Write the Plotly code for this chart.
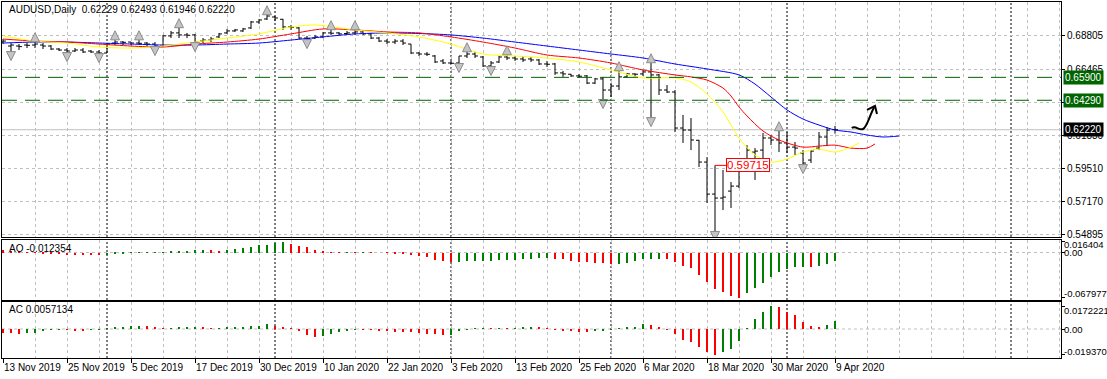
import plotly.graph_objects as go

# ---------------- data ----------------
date_labels = ["13 Nov 2019", "25 Nov 2019", "5 Dec 2019", "17 Dec 2019", "30 Dec 2019",
               "10 Jan 2020", "22 Jan 2020", "3 Feb 2020", "13 Feb 2020", "25 Feb 2020",
               "6 Mar 2020", "18 Mar 2020", "30 Mar 2020", "9 Apr 2020"]
label_every = 8

opens = [.6838, .6810, .6810, .6817, .6817, .6817, .6810, .6789, .6782, .6775,
         .6782, .6775, .6768, .6761, .6831, .6838, .6838, .6831, .6831, .6824,
         .6810, .6881, .6902, .6888, .6888, .6845, .6852, .6874, .6902, .6916,
         .6916, .6937, .6979, .7000, .7014, .6998, .6944, .6937, .6866, .6866,
         .6874, .6902, .6902, .6898, .6902, .6909, .6895, .6866, .6845, .6838,
         .6845, .6824, .6761, .6754, .6740, .6705, .6691, .6691, .6740, .6754,
         .6733, .6670, .6698, .6733, .6726, .6719, .6719, .6712, .6684, .6684,
         .6621, .6612, .6600, .6600, .6550, .6579, .6501, .6529, .6593, .6614,
         .6614, .6628, .6607, .6501, .6487, .6234, .6220, .6148, .5995, .5770,
         .5742, .5791, .5826, .5967, .6065, .6079, .6164, .6150, .6129, .6100,
         .6058, .6009, .6093, .6171, .62229]
highs = [.6859, .6831, .6824, .6831, .6838, .6831, .6817, .6796, .6796, .6796,
         .6796, .6782, .6782, .6831, .6852, .6845, .6838, .6852, .6838, .6838,
         .6888, .6916, .6937, .6902, .6895, .6866, .6874, .6902, .6930, .6930,
         .6937, .6986, .7000, .7028, .7021, .7000, .6958, .6944, .6881, .6888,
         .6909, .6923, .6909, .6916, .6923, .6916, .6902, .6874, .6859, .6859,
         .6859, .6824, .6768, .6768, .6747, .6719, .6705, .6740, .6768, .6768,
         .6740, .6705, .6740, .6747, .6740, .6740, .6733, .6719, .6705, .6691,
         .6635, .6614, .6614, .6607, .6586, .6593, .6543, .6635, .6621, .6618,
         .6642, .6691, .6614, .6536, .6501, .6326, .6304, .6150, .6030, .59715,
         .5939, .5855, .5995, .6114, .6093, .6199, .6185, .6213, .6206, .6136,
         .6079, .6079, .6206, .6241, .62493]
lows = [.6824, .6768, .6782, .6796, .6796, .6789, .6782, .6775, .6761, .6768,
        .6761, .6761, .6754, .6761, .6817, .6817, .6817, .6817, .6810, .6803,
        .6803, .6866, .6866, .6866, .6831, .6831, .6838, .6866, .6895, .6909,
        .6909, .6930, .6965, .6993, .6986, .6923, .6923, .6859, .6852, .6859,
        .6866, .6888, .6888, .6888, .6888, .6888, .6859, .6838, .6824, .6824,
        .6817, .6754, .6740, .6740, .6691, .6684, .6684, .6684, .6726, .6726,
        .6663, .6663, .6691, .6712, .6705, .6698, .6698, .6677, .6663, .6607,
        .6593, .6593, .6586, .6543, .6543, .6431, .6452, .6501, .6586, .6593,
        .6600, .6304, .6466, .6480, .6206, .6129, .6079, .5960, .5707, .5504,
        .5658, .5672, .5812, .5925, .5869, .6009, .6114, .6065, .6058, .6044,
        .5974, .5988, .6079, .6107, .61946]
closes = [.6845, .6817, .6806, .6815, .6824, .6810, .6789, .6782, .6775, .6782,
          .6768, .6768, .6761, .6824, .6838, .6836, .6831, .6829, .6824, .6810,
          .6881, .6902, .6888, .6886, .6838, .6852, .6859, .6895, .6916, .6923,
          .6930, .6979, .6993, .7021, .7007, .6944, .6942, .6866, .6864, .6874,
          .6902, .6900, .6895, .6902, .6909, .6895, .6866, .6845, .6838, .6845,
          .6831, .6761, .6754, .6752, .6698, .6691, .6689, .6740, .6754, .6740,
          .6670, .6691, .6733, .6726, .6719, .6712, .6712, .6684, .6682, .6621,
          .6614, .6600, .6598, .6550, .6579, .6501, .6529, .6593, .6614, .6612,
          .6628, .6607, .6501, .6487, .6234, .6220, .6150, .5995, .5770, .5742,
          .5749, .5826, .5967, .6079, .6072, .6164, .6150, .6129, .6100, .6093,
          .5988, .6072, .6171, .6220, .62220]

# Alligator lines (bar index, price)
jaw_idx = [0, 4, 8, 12, 16, 20, 24, 28, 32, 36, 40, 44, 48, 52, 56, 60, 64, 68, 72, 76,
           80, 84, 88, 92, 94, 96, 98, 100, 102, 104, 106, 108, 110, 112]
jaw_val = [.6831, .6838, .6838, .6831, .6824, .6817, .6817, .6824, .6831, .6852, .6874,
           .6895, .6902, .6898, .6888, .6866, .6838, .6810, .6782, .6754, .6726, .6684,
           .6649, .6607, .6543, .6452, .6361, .6297, .6255, .6220, .6206, .6185, .6171, .6178]
teeth_idx = [0, 4, 8, 12, 16, 20, 24, 28, 32, 36, 40, 44, 48, 52, 56, 60, 64, 68, 72, 76,
             80, 84, 86, 88, 90, 91, 92, 93, 95, 97, 100, 102, 104, 106, 108, 109]
teeth_val = [.6859, .6845, .6838, .6824, .6810, .6803, .6824, .6838, .6859, .6895, .6930,
             .6923, .6909, .6902, .6874, .6838, .6796, .6747, .6726, .6691, .6642, .6607,
             .6593, .6571, .6515, .6459, .6382, .6319, .6213, .6150, .6100, .6107, .6114,
             .6093, .6093, .6122]
lips_idx = [0, 4, 8, 12, 16, 20, 24, 28, 32, 36, 39, 44, 48, 52, 56, 60, 64, 68, 72, 76,
            80, 84, 86, 88, 90, 92, 94, 96, 98, 100, 102, 104, 106, 107]
lips_val = [.6881, .6845, .6831, .6803, .6796, .6810, .6838, .6866, .6895, .6944, .6958,
            .6923, .6902, .6874, .6824, .6754, .6740, .6726, .6698, .6642, .6586, .6586,
            .6557, .6473, .6347, .6164, .6044, .5995, .6016, .6065, .6086, .6065, .6100, .6129]

fractal_up = [4, 14, 17, 22, 33, 41, 44, 58, 63, 77, 81, 97]
fractal_down = [1, 8, 12, 19, 24, 38, 57, 61, 75, 81, 89, 100]

ao = [0.0035, 0.0025, 0.0015, 0.0005, -0.0005, -0.0015, -0.0022, -0.0030, -0.0035, -0.0036,
      -0.0037, -0.0038, -0.0045, -0.0040, -0.0025, -0.0020, -0.0005, 0.0002, 0.0004, 0.0005,
      0.0007, 0.0010, 0.0012, 0.0015, 0.0035, 0.0037, 0.0033, 0.0030, 0.0034, 0.0052,
      0.0068, 0.0085, 0.0110, 0.0120, 0.0150, 0.016404, 0.0135, 0.0105, 0.0082, 0.0042,
      0.0015, 0.0005, 0.0003, 0.0004, 0.0002, 0.0003, 0.0001, 0.0000, -0.0005, -0.0020,
      -0.0025, -0.0045, -0.0060, -0.0075, -0.0110, -0.0125, -0.0145, -0.0143, -0.0135, -0.0130,
      -0.0128, -0.0125, -0.0120, -0.0118, -0.0115, -0.0105, -0.0097, -0.0090, -0.0086, -0.0096,
      -0.0097, -0.0126, -0.0136, -0.0146, -0.0161, -0.0163, -0.0176, -0.0175, -0.0152, -0.0128,
      -0.0098, -0.0096, -0.0094, -0.0097, -0.0146, -0.0197, -0.0237, -0.0338, -0.0449, -0.0549,
      -0.0600, -0.0650, -0.067977, -0.0615, -0.0539, -0.0464, -0.0373, -0.0297, -0.0247, -0.0226,
      -0.0222, -0.0224, -0.0202, -0.0176, -0.012354]
ac = [-0.0031, -0.0032, -0.0039, -0.0033, -0.0028, -0.0018, -0.0006, -0.0002, -0.0004, -0.0012,
      -0.0015, -0.0005, -0.0002, 0.0001, 0.0008, 0.0013, 0.0020, 0.0026, 0.0021, 0.0008,
      0.0002, 0.0005, 0.0008, 0.0013, 0.0018, 0.0008, 0.0003, 0.0005, 0.0012, 0.0014,
      0.0018, 0.0023, 0.0024, 0.0034, 0.0021, 0.0008, 0.0001, -0.0018, -0.0044, -0.0057,
      -0.0056, -0.0039, -0.0023, -0.0008, -0.0002, -0.0003, -0.0005, -0.0013, -0.0018, -0.0023,
      -0.0024, -0.0026, -0.0031, -0.0036, -0.0039, -0.0044, -0.0043, -0.0018, -0.0005, 0.0002,
      0.0004, 0.0003, 0.0006, 0.0004, 0.0007, 0.0009, 0.0013, 0.0011, 0.0005, -0.0002,
      -0.0012, -0.0017, -0.0020, -0.0025, -0.0018, -0.0015, -0.0003, 0.0006, 0.0013, 0.0018,
      0.0038, 0.0030, 0.0015, -0.0002, -0.0038, -0.0080, -0.0098, -0.0135, -0.0173, -0.019370,
      -0.0173, -0.0148, -0.0088, 0.0002, 0.0075, 0.0128, 0.0172221, 0.0166, 0.0128, 0.0105,
      0.0053, 0.0023, 0.0015, 0.0028, 0.0057134]

level_lines = [0.65900, 0.64290]
bid = closes[-1]
price_ticks = [0.68805, 0.66465, 0.64150, 0.61830, 0.59510, 0.57170, 0.54895]
ao_ticks = [0.016404, 0.00, -0.067977]
ao_tick_text = ["0.016404", "0.00", "-0.067977"]
ac_ticks = [0.0172221, 0.00, -0.019370]
ac_tick_text = ["0.0172221", "0.00", "-0.019370"]
separators = [13, 34, 56, 76, 98, 126]
price_label_bar = 89
# hand-drawn arrow (bar index, price)
arrow_path = "M 106.1,0.6234 C 106.6,0.6255 107.0,0.6213 107.5,0.6227 S 108.25,0.6312 108.9,0.6382"
arrow_head = "M 108.0,0.6361 L 109.0,0.6389 L 109.25,0.6333"

# ---------------- styling ----------------
FONT = "Liberation Sans"
GRID = "#c0c0c0"
GREEN = "#006400"
n = len(opens)
idx = list(range(n))
X_RANGE = [-0.125, 132.25]
FR_UP_GAP, FR_DN_GAP = 0.0065, 0.0060


def hist_colors(vals):
    cols = []
    for i, v in enumerate(vals):
        if i == 0:
            cols.append("#ff0000")
        else:
            cols.append("#008000" if v > vals[i - 1] else "#ff0000")
    return cols


fig = go.Figure()
fig.add_trace(go.Ohlc(x=idx, open=opens, high=highs, low=lows, close=closes,
                      increasing=dict(line=dict(color="black", width=1)),
                      decreasing=dict(line=dict(color="black", width=1)),
                      tickwidth=0.37, xaxis="x", yaxis="y", hoverinfo="skip"))
fig.add_trace(go.Scatter(x=jaw_idx, y=jaw_val, mode="lines", line=dict(color="#0000ff", width=1, shape="spline", smoothing=0.8),
                         xaxis="x", yaxis="y"))
fig.add_trace(go.Scatter(x=teeth_idx, y=teeth_val, mode="lines", line=dict(color="#ff0000", width=1, shape="spline", smoothing=0.8),
                         xaxis="x", yaxis="y"))
fig.add_trace(go.Scatter(x=lips_idx, y=lips_val, mode="lines", line=dict(color="#ffff00", width=1, shape="spline", smoothing=0.8),
                         xaxis="x", yaxis="y"))
fig.add_trace(go.Scatter(x=fractal_up, y=[highs[i] + FR_UP_GAP for i in fractal_up], mode="markers",
                         marker=dict(symbol="arrow-up", size=9, color="#c4c4c4", line=dict(color="#8c8c8c", width=1)),
                         xaxis="x", yaxis="y"))
fig.add_trace(go.Scatter(x=fractal_down, y=[lows[i] - FR_DN_GAP for i in fractal_down], mode="markers",
                         marker=dict(symbol="arrow-down", size=9, color="#c4c4c4", line=dict(color="#8c8c8c", width=1)),
                         xaxis="x", yaxis="y"))
fig.add_trace(go.Bar(x=idx, y=ao, marker=dict(color=hist_colors(ao), line=dict(width=0)), width=0.2,
                     xaxis="x2", yaxis="y2"))
fig.add_trace(go.Bar(x=idx, y=ac, marker=dict(color=hist_colors(ac), line=dict(width=0)), width=0.2,
                     xaxis="x3", yaxis="y3"))

axis_common = dict(range=X_RANGE, showline=True, mirror=True, linecolor="black", linewidth=1, automargin=False,
                   zeroline=False, showgrid=True, gridcolor=GRID, griddash="3px,3px", gridwidth=1)
fig.update_layout(
    width=1107, height=379, margin=dict(l=2, r=46, t=2, b=21, autoexpand=False),
    paper_bgcolor="white", plot_bgcolor="white", showlegend=False, bargap=0,
    font=dict(family=FONT, size=10, color="black"),
    xaxis=dict(axis_common, domain=[0, 1], anchor="y", showticklabels=False, ticks="", dtick=4, tick0=0,
               rangeslider=dict(visible=False)),
    xaxis2=dict(axis_common, domain=[0, 1], anchor="y2", matches="x", showticklabels=False, ticks="", dtick=4, tick0=0),
    xaxis3=dict(axis_common, domain=[0, 1], anchor="y3", matches="x",
                tickvals=[i * label_every for i in range(len(date_labels))], ticktext=date_labels,
                tickangle=0, ticks="outside", ticklen=4, tickcolor="black", ticklabelposition="outside right",
                minor=dict(dtick=4, tick0=0, showgrid=True, gridcolor=GRID, griddash="3px,3px", ticks="")),
    yaxis=dict(domain=[0.3399, 1], range=[0.54685, 0.71193], side="right", anchor="x", automargin=False,
               tickvals=price_ticks, ticktext=[f"{v:.5f}" for v in price_ticks],
               ticks="outside", ticklen=3, tickcolor="black",
               showline=True, mirror=True, linecolor="black", zeroline=False,
               showgrid=True, gridcolor=GRID, griddash="3px,3px"),
    yaxis2=dict(domain=[0.1629, 0.3315], range=[-0.07177, 0.01889], side="right", anchor="x2", automargin=False,
                tickvals=ao_ticks, showticklabels=False, ticks="outside", ticklen=3, tickcolor="black",
                showline=True, mirror=True, linecolor="black", zeroline=False, showgrid=False),
    yaxis3=dict(domain=[0, 0.1573], range=[-0.02187, 0.02036], side="right", anchor="x3", automargin=False,
                tickvals=ac_ticks, showticklabels=False, ticks="outside", ticklen=3, tickcolor="black",
                showline=True, mirror=True, linecolor="black", zeroline=False, showgrid=False),
)

shapes = []
for yr in ("y2", "y3"):
    shapes.append(dict(type="line", xref="x", yref=yr, x0=X_RANGE[0], x1=X_RANGE[1], y0=0, y1=0,
                       line=dict(color=GRID, width=1, dash="3px,3px"), layer="below"))
for s in separators:
    for yr in ("y domain", "y2 domain", "y3 domain"):
        shapes.append(dict(type="line", xref="x", yref=yr, x0=s, x1=s, y0=0, y1=1,
                           line=dict(color="black", width=1, dash="2px,2px"), layer="below"))
for lv in level_lines:
    shapes.append(dict(type="line", xref="x", yref="y", x0=X_RANGE[0], x1=X_RANGE[1], y0=lv, y1=lv,
                       line=dict(color=GREEN, width=1, dash="15px,8px")))
shapes.append(dict(type="line", xref="x", yref="y", x0=X_RANGE[0], x1=X_RANGE[1], y0=bid, y1=bid,
                   line=dict(color="#c0c0c0", width=1), layer="below"))
shapes.append(dict(type="line", xref="x", yref="y", x0=price_label_bar, x1=price_label_bar + 1.4,
                   y0=highs[price_label_bar], y1=highs[price_label_bar], line=dict(color="#ff0000", width=1)))
shapes.append(dict(type="path", xref="x", yref="y", path=arrow_path, line=dict(color="black", width=2)))
shapes.append(dict(type="path", xref="x", yref="y", path=arrow_head, line=dict(color="black", width=2)))
fig.update_layout(shapes=shapes)

ann = []
XR = (1062 - 2) / 1059
title = f"AUDUSD,Daily  {opens[-1]:.5f} {highs[-1]:.5f} {lows[-1]:.5f} {closes[-1]:.5f}"
ann.append(dict(text=title, xref="paper", yref="y domain", x=0.0047, y=0.966, xanchor="left", yanchor="middle",
                showarrow=False, font=dict(size=10)))
ann.append(dict(text=f"AO {ao[-1]:.6f}", xref="paper", yref="y2 domain", x=0.0047, y=0.86, xanchor="left",
                yanchor="middle", showarrow=False, font=dict(size=10)))
ann.append(dict(text=f"AC {ac[-1]:.7f}", xref="paper", yref="y3 domain", x=0.0047, y=0.86, xanchor="left",
                yanchor="middle", showarrow=False, font=dict(size=10)))
for v, t, sh in zip(ao_ticks, ao_tick_text, (-3, 0, 4)):
    ann.append(dict(text=t, xref="paper", yref="y2", x=XR, y=v, yshift=sh, xanchor="left", yanchor="middle",
                    showarrow=False, font=dict(size=9.5)))
for v, t, sh in zip(ac_ticks, ac_tick_text, (-4, 0, 3)):
    ann.append(dict(text=t, xref="paper", yref="y3", x=XR, y=v, yshift=sh, xanchor="left", yanchor="middle",
                    showarrow=False, font=dict(size=9.5)))
for lv in level_lines:
    ann.append(dict(text=f"{lv:.5f}", xref="paper", yref="y", x=(1063 - 2) / 1059, y=lv, xanchor="left",
                    yanchor="middle", showarrow=False, bgcolor=GREEN, font=dict(color="white", size=10), borderpad=1))
ann.append(dict(text=f"{bid:.5f}", xref="paper", yref="y", x=(1063 - 2) / 1059, y=bid, xanchor="left",
                yanchor="middle", showarrow=False, bgcolor="black", font=dict(color="white", size=10), borderpad=1))
ann.append(dict(text=f"{highs[price_label_bar]:.5f}", xref="x", yref="y", x=price_label_bar + 1.4,
                y=highs[price_label_bar], xanchor="left", yanchor="middle", showarrow=False,
                bgcolor="white", bordercolor="#ff0000", borderwidth=1, borderpad=0,
                font=dict(color="#ff0000", size=11.5)))
fig.update_layout(annotations=ann)

fig.write_html("out.html")
